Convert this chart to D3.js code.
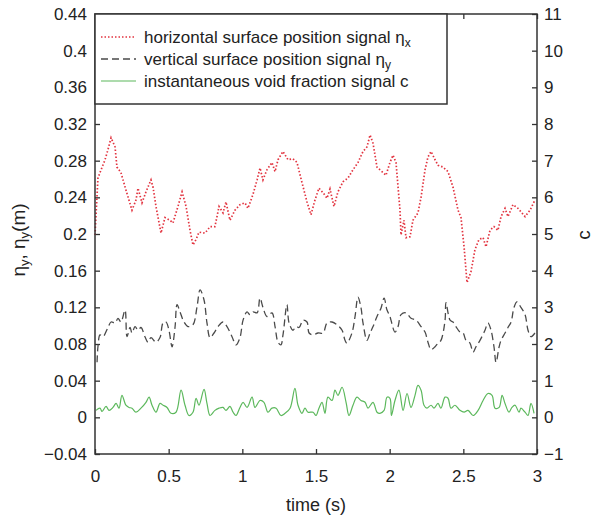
<!DOCTYPE html>
<html>
<head>
<meta charset="utf-8">
<script src="https://cdn.jsdelivr.net/npm/d3@7"></script>
<style>
  body { margin: 0; background: #fff; }
  svg text { font-family: "Liberation Sans", Arial, sans-serif; fill: #222; }
</style>
</head>
<body>
<div id="viz"></div>
<script>
// horizontal surface position signal eta_x (m)
const tEtaX = [0, 0.02, 0.041, 0.068, 0.088, 0.109, 0.136, 0.149, 0.176, 0.21, 0.251, 0.278, 0.292, 0.319, 0.346, 0.38, 0.394, 0.414, 0.448, 0.475, 0.509, 0.529, 0.563, 0.591, 0.618, 0.645, 0.665, 0.686, 0.706, 0.747, 0.781, 0.814, 0.842, 0.869, 0.889, 0.916, 0.95, 0.984, 1.018, 1.038, 1.072, 1.1, 1.12, 1.14, 1.167, 1.201, 1.222, 1.242, 1.276, 1.31, 1.344, 1.371, 1.405, 1.439, 1.466, 1.493, 1.52, 1.548, 1.575, 1.595, 1.622, 1.649, 1.683, 1.717, 1.751, 1.785, 1.819, 1.846, 1.867, 1.887, 1.914, 1.948, 1.975, 2.002, 2.023, 2.043, 2.07, 2.077, 2.097, 2.111, 2.138, 2.158, 2.192, 2.213, 2.24, 2.26, 2.281, 2.308, 2.328, 2.362, 2.396, 2.43, 2.464, 2.484, 2.505, 2.525, 2.552, 2.579, 2.606, 2.634, 2.654, 2.681, 2.708, 2.735, 2.756, 2.783, 2.803, 2.837, 2.871, 2.919, 2.953, 2.986];
const etaX = [0.199, 0.261, 0.270, 0.281, 0.292, 0.305, 0.295, 0.273, 0.267, 0.248, 0.226, 0.237, 0.250, 0.234, 0.246, 0.259, 0.251, 0.230, 0.201, 0.218, 0.215, 0.212, 0.230, 0.246, 0.230, 0.204, 0.188, 0.194, 0.202, 0.201, 0.208, 0.208, 0.230, 0.223, 0.235, 0.215, 0.226, 0.232, 0.234, 0.228, 0.243, 0.259, 0.272, 0.259, 0.270, 0.278, 0.268, 0.281, 0.290, 0.281, 0.282, 0.278, 0.256, 0.235, 0.221, 0.237, 0.250, 0.245, 0.239, 0.249, 0.230, 0.246, 0.257, 0.261, 0.270, 0.278, 0.290, 0.295, 0.308, 0.299, 0.273, 0.268, 0.264, 0.278, 0.286, 0.278, 0.226, 0.199, 0.215, 0.196, 0.197, 0.215, 0.223, 0.240, 0.270, 0.284, 0.290, 0.281, 0.275, 0.273, 0.268, 0.251, 0.226, 0.218, 0.186, 0.147, 0.159, 0.183, 0.194, 0.196, 0.186, 0.204, 0.208, 0.204, 0.219, 0.228, 0.219, 0.232, 0.228, 0.219, 0.226, 0.237];

// vertical surface position signal eta_y (m)
const tEtaY = [0.014, 0.02, 0.034, 0.054, 0.088, 0.109, 0.136, 0.156, 0.176, 0.204, 0.217, 0.238, 0.251, 0.272, 0.292, 0.312, 0.339, 0.36, 0.38, 0.414, 0.441, 0.462, 0.482, 0.502, 0.523, 0.543, 0.557, 0.577, 0.604, 0.631, 0.665, 0.692, 0.713, 0.74, 0.76, 0.781, 0.808, 0.835, 0.869, 0.896, 0.93, 0.957, 0.984, 1.005, 1.032, 1.052, 1.072, 1.1, 1.12, 1.14, 1.167, 1.201, 1.222, 1.242, 1.262, 1.276, 1.303, 1.317, 1.344, 1.364, 1.385, 1.412, 1.439, 1.453, 1.48, 1.514, 1.548, 1.575, 1.609, 1.643, 1.677, 1.697, 1.71, 1.744, 1.765, 1.785, 1.805, 1.819, 1.846, 1.867, 1.887, 1.914, 1.941, 1.962, 1.982, 2.002, 2.009, 2.036, 2.057, 2.077, 2.111, 2.145, 2.179, 2.213, 2.24, 2.26, 2.281, 2.308, 2.328, 2.348, 2.376, 2.382, 2.41, 2.43, 2.45, 2.477, 2.498, 2.518, 2.545, 2.566, 2.586, 2.613, 2.647, 2.667, 2.688, 2.708, 2.722, 2.743, 2.756, 2.783, 2.803, 2.824, 2.844, 2.864, 2.891, 2.919, 2.939, 2.959, 2.986];
const etaY = [0.060, 0.077, 0.090, 0.088, 0.098, 0.104, 0.103, 0.108, 0.104, 0.117, 0.088, 0.098, 0.092, 0.099, 0.095, 0.098, 0.088, 0.082, 0.087, 0.082, 0.087, 0.103, 0.104, 0.095, 0.077, 0.098, 0.123, 0.115, 0.104, 0.099, 0.101, 0.120, 0.139, 0.128, 0.103, 0.087, 0.092, 0.099, 0.104, 0.099, 0.088, 0.079, 0.087, 0.106, 0.115, 0.112, 0.115, 0.114, 0.130, 0.120, 0.110, 0.114, 0.099, 0.082, 0.079, 0.090, 0.123, 0.103, 0.095, 0.099, 0.098, 0.106, 0.104, 0.092, 0.090, 0.092, 0.092, 0.103, 0.104, 0.101, 0.095, 0.084, 0.081, 0.092, 0.110, 0.131, 0.120, 0.103, 0.084, 0.092, 0.099, 0.110, 0.119, 0.130, 0.117, 0.110, 0.106, 0.093, 0.099, 0.112, 0.114, 0.108, 0.106, 0.099, 0.093, 0.082, 0.074, 0.077, 0.081, 0.084, 0.106, 0.125, 0.106, 0.104, 0.099, 0.093, 0.092, 0.084, 0.081, 0.071, 0.077, 0.084, 0.095, 0.103, 0.095, 0.077, 0.060, 0.077, 0.084, 0.092, 0.098, 0.104, 0.120, 0.126, 0.120, 0.112, 0.095, 0.088, 0.092];

// instantaneous void fraction signal c
const tC = [0.007, 0.034, 0.048, 0.075, 0.095, 0.122, 0.143, 0.163, 0.183, 0.21, 0.231, 0.251, 0.278, 0.312, 0.346, 0.367, 0.387, 0.414, 0.441, 0.462, 0.489, 0.516, 0.55, 0.584, 0.611, 0.638, 0.665, 0.686, 0.706, 0.74, 0.76, 0.781, 0.814, 0.842, 0.869, 0.889, 0.916, 0.937, 0.957, 0.984, 1.005, 1.032, 1.066, 1.086, 1.12, 1.147, 1.174, 1.201, 1.229, 1.262, 1.29, 1.324, 1.357, 1.378, 1.405, 1.425, 1.446, 1.48, 1.5, 1.52, 1.541, 1.561, 1.581, 1.609, 1.629, 1.649, 1.677, 1.704, 1.724, 1.751, 1.778, 1.805, 1.833, 1.853, 1.887, 1.914, 1.934, 1.962, 1.982, 2.002, 2.012, 2.036, 2.063, 2.091, 2.118, 2.145, 2.172, 2.192, 2.213, 2.233, 2.253, 2.281, 2.301, 2.328, 2.348, 2.376, 2.396, 2.416, 2.443, 2.477, 2.505, 2.532, 2.566, 2.6, 2.634, 2.667, 2.695, 2.715, 2.743, 2.763, 2.783, 2.81, 2.83, 2.851, 2.878, 2.891, 2.919, 2.939, 2.959, 2.98];
const cVal = [0.19, 0.25, 0.16, 0.30, 0.19, 0.27, 0.38, 0.25, 0.60, 0.33, 0.27, 0.25, 0.14, 0.25, 0.41, 0.55, 0.33, 0.14, 0.38, 0.33, 0.27, 0.11, 0.14, 0.74, 0.33, 0.05, 0.14, 0.52, 0.33, 0.76, 0.38, 0.05, 0.19, 0.25, 0.27, 0.19, 0.30, 0.14, 0.05, 0.27, 0.41, 0.27, 0.55, 0.27, 0.46, 0.41, 0.14, 0.25, 0.25, 0.05, 0.11, 0.25, 0.79, 0.33, 0.11, 0.25, 0.14, 0.14, 0.05, 0.25, 0.41, 0.11, 0.55, 0.46, 0.74, 0.60, 0.82, 0.41, 0.05, 0.33, 0.55, 0.46, 0.41, 0.25, 0.41, 0.14, 0.11, 0.19, 0.55, 0.52, 0.05, 0.46, 0.74, 0.19, 0.65, 0.27, 0.60, 0.87, 0.74, 0.33, 0.25, 0.33, 0.25, 0.38, 0.25, 0.55, 0.52, 0.25, 0.33, 0.19, 0.14, 0.19, 0.05, 0.19, 0.46, 0.65, 0.60, 0.25, 0.27, 0.60, 0.38, 0.14, 0.27, 0.33, 0.14, 0.25, 0.14, 0.05, 0.38, 0.11];

const xTicks = [0, 0.5, 1, 1.5, 2, 2.5, 3];
const leftTicks = [-0.04, 0, 0.04, 0.08, 0.12, 0.16, 0.2, 0.24, 0.28, 0.32, 0.36, 0.4, 0.44];
const rightTicks = [-1, 0, 1, 2, 3, 4, 5, 6, 7, 8, 9, 10, 11];

const seriesNames = ['horizontal surface position signal η', 'vertical surface position signal η', 'instantaneous void fraction signal c'];
const seriesSubs = ['x', 'y', ''];

function buildChart(containerId) {
    const width = 599;
    const height = 517;
    const margin = { top: 14, right: 62, bottom: 63, left: 95 };
    const innerWidth = width - margin.left - margin.right;
    const innerHeight = height - margin.top - margin.bottom;

    const svg = d3.select(containerId)
                  .append('svg')
                  .attr('width', width)
                  .attr('height', height);

    const g = svg.append('g')
                 .attr('transform', 'translate(' + margin.left + ',' + margin.top + ')');

    const x = d3.scaleLinear().domain([0, 3]).range([0, innerWidth]);
    const yL = d3.scaleLinear().domain([-0.04, 0.44]).range([innerHeight, 0]);
    const yR = d3.scaleLinear().domain([-1, 11]).range([innerHeight, 0]);

    const fmt = d3.format('~g');

    // axes with inward ticks
    const axisStyle = sel => {
        sel.select('.domain').remove();
        sel.selectAll('line').attr('stroke', '#333').attr('stroke-width', 1.3);
        sel.selectAll('text').style('font-size', '17px').attr('fill', '#222');
    };

    g.append('g')
     .attr('transform', 'translate(0,' + innerHeight + ')')
     .call(d3.axisBottom(x).tickValues(xTicks).tickFormat(fmt).tickSize(-5).tickPadding(16))
     .call(axisStyle);

    g.append('g')
     .call(d3.axisTop(x).tickValues(xTicks).tickFormat('').tickSize(-5))
     .call(axisStyle);

    g.append('g')
     .call(d3.axisLeft(yL).tickValues(leftTicks).tickFormat(fmt).tickSize(-5).tickPadding(8))
     .call(axisStyle);

    g.append('g')
     .attr('transform', 'translate(' + innerWidth + ',0)')
     .call(d3.axisRight(yR).tickValues(rightTicks).tickFormat(fmt).tickSize(-5).tickPadding(7))
     .call(axisStyle);

    // series lines
    const toPts = (ts, vs) => ts.map((t, i) => ({ t: t, v: vs[i] }));

    const lineL = d3.line().x(d => x(d.t)).y(d => yL(d.v));
    const lineLs = d3.line().x(d => x(d.t)).y(d => yL(d.v)).curve(d3.curveCatmullRom);
    const lineR = d3.line().x(d => x(d.t)).y(d => yR(d.v)).curve(d3.curveCatmullRom);

    g.append('path')
     .datum(toPts(tC, cVal))
     .attr('d', lineR)
     .attr('fill', 'none')
     .attr('stroke', '#5cb85c')
     .attr('stroke-width', 1.2);

    g.append('path')
     .datum(toPts(tEtaY, etaY))
     .attr('d', lineLs)
     .attr('fill', 'none')
     .attr('stroke', '#4a4a4a')
     .attr('stroke-width', 1.3)
     .attr('stroke-dasharray', '7,4');

    g.append('path')
     .datum(toPts(tEtaX, etaX))
     .attr('d', lineL)
     .attr('fill', 'none')
     .attr('stroke', '#e2333f')
     .attr('stroke-width', 1.7)
     .attr('stroke-dasharray', '1.5,2');

    // frame
    g.append('rect')
     .attr('width', innerWidth)
     .attr('height', innerHeight)
     .attr('fill', 'none')
     .attr('stroke', '#333')
     .attr('stroke-width', 1.5);

    // legend
    const legend = g.append('g');
    legend.append('rect')
          .attr('x', 0)
          .attr('y', 0)
          .attr('width', 352)
          .attr('height', 90)
          .attr('fill', '#fff')
          .attr('stroke', '#333')
          .attr('stroke-width', 1.5);

    const styles = [
        { stroke: '#e2333f', dash: '1.5,2', w: 1.7 },
        { stroke: '#4a4a4a', dash: '7,4', w: 1.3 },
        { stroke: '#5cb85c', dash: null, w: 1.2 }
    ];

    seriesNames.forEach((name, i) => {
        const cy = 23 + i * 22;
        legend.append('line')
              .attr('x1', 6).attr('x2', 41)
              .attr('y1', cy).attr('y2', cy)
              .attr('stroke', styles[i].stroke)
              .attr('stroke-width', styles[i].w)
              .attr('stroke-dasharray', styles[i].dash);
        const t = legend.append('text')
                        .attr('x', 49)
                        .attr('y', cy + 6)
                        .style('font-size', '17px')
                        .text(name);
        if (seriesSubs[i]) {
            t.append('tspan')
             .attr('dy', 4)
             .style('font-size', '12px')
             .text(seriesSubs[i]);
        }
    });

    // axis labels
    svg.append('text')
       .attr('x', margin.left + innerWidth / 2)
       .attr('y', 511)
       .attr('text-anchor', 'middle')
       .style('font-size', '18px')
       .text('time (s)');

    const yl = svg.append('text')
                  .attr('transform', 'translate(25,' + 240 + ') rotate(-90)')
                  .attr('text-anchor', 'middle')
                  .style('font-size', '19px');
    yl.append('tspan').text('η');
    yl.append('tspan').attr('dy', 4).style('font-size', '13px').text('y');
    yl.append('tspan').attr('dy', -4).text(', η');
    yl.append('tspan').attr('dy', 4).style('font-size', '13px').text('y');
    yl.append('tspan').attr('dy', -4).text('(m)');

    svg.append('text')
       .attr('transform', 'translate(590,' + 235 + ') rotate(-90)')
       .attr('text-anchor', 'middle')
       .style('font-size', '19px')
       .text('c');
}

buildChart('#viz');
</script>
</body>
</html>
